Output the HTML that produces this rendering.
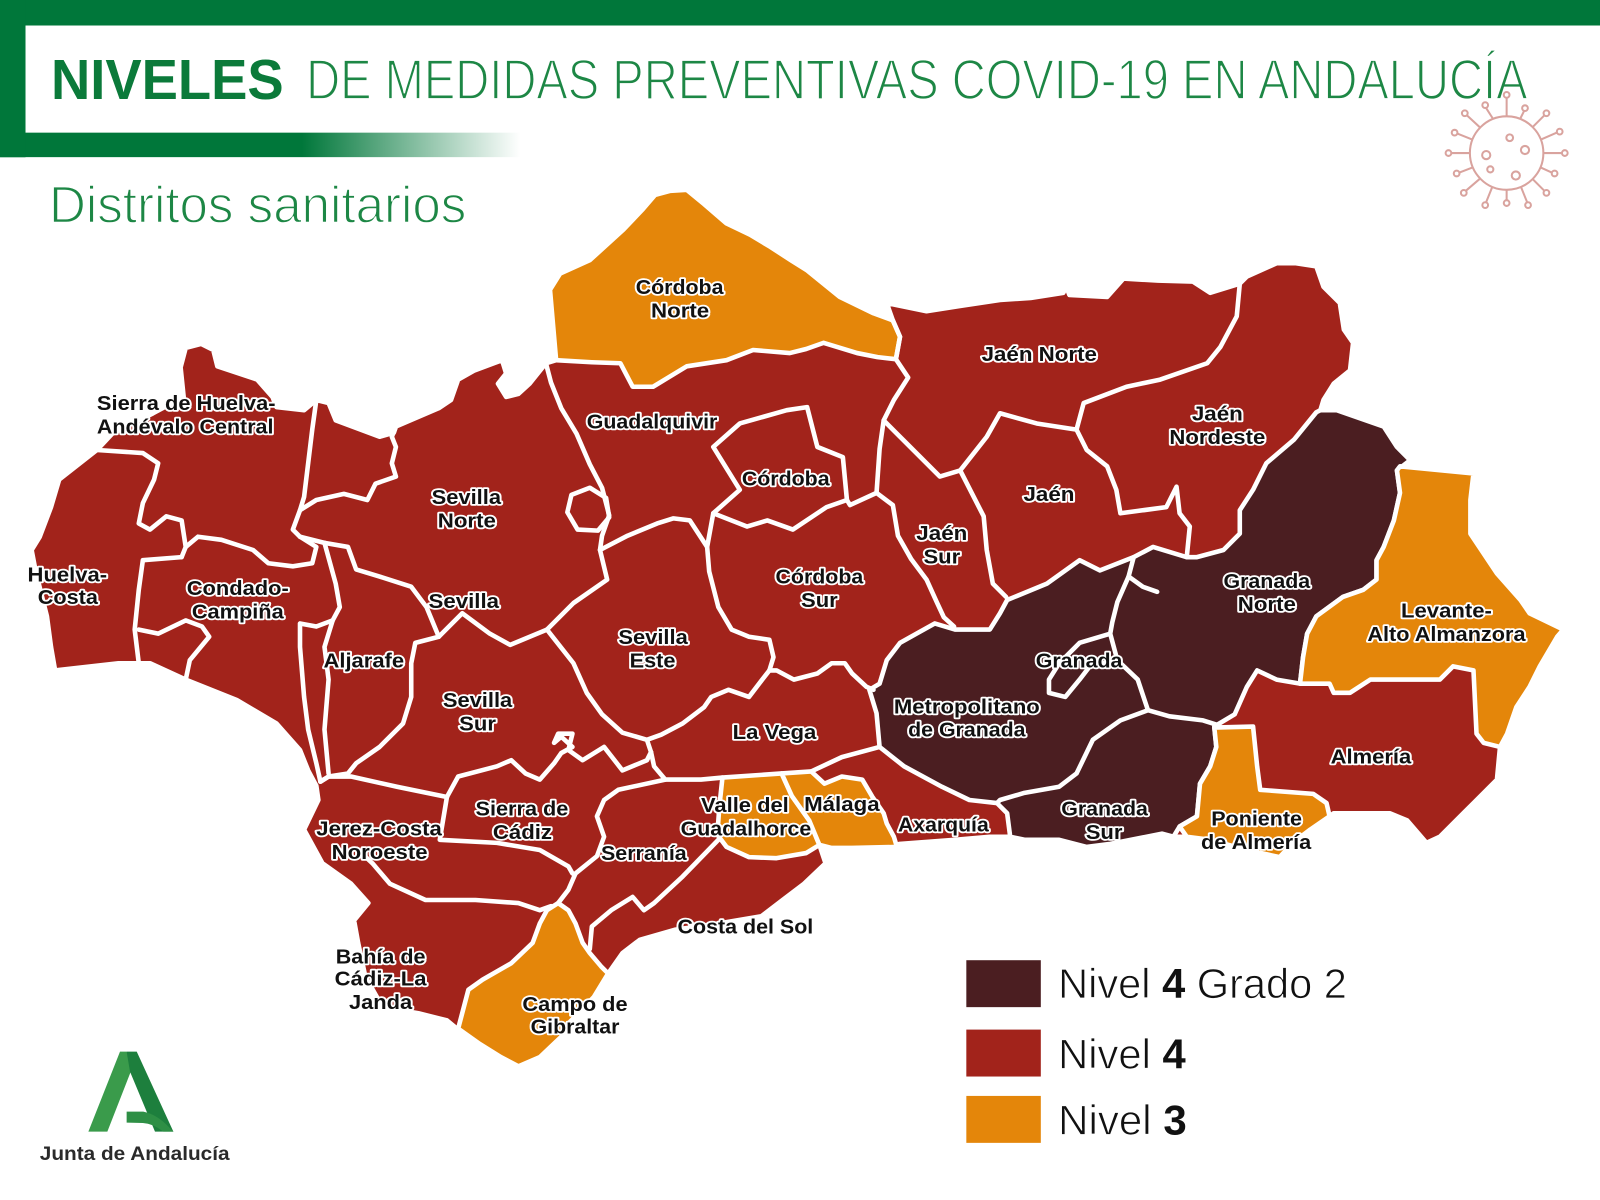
<!DOCTYPE html>
<html>
<head>
<meta charset="utf-8">
<style>
html,body{margin:0;padding:0;background:#fff;}
body{width:1600px;height:1200px;overflow:hidden;}
svg{display:block;}
</style>
</head>
<body>
<svg width="1600" height="1200" viewBox="0 0 1568 1176" xmlns="http://www.w3.org/2000/svg" preserveAspectRatio="none">
<defs>
<linearGradient id="gb" gradientUnits="userSpaceOnUse" x1="0" y1="0" x2="510" y2="0">
<stop offset="0" stop-color="#00773a"/>
<stop offset="0.58" stop-color="#00773a"/>
<stop offset="1" stop-color="#00773a" stop-opacity="0"/>
</linearGradient>
</defs>
<rect x="0" y="0" width="1568" height="1176" fill="#fff"/>
<!-- header frame -->
<rect x="0" y="0" width="1568" height="25" fill="#00773a"/>
<rect x="0" y="0" width="25" height="154" fill="#00773a"/>
<rect x="0" y="130" width="510" height="24" fill="url(#gb)"/>
<rect x="0" y="130" width="25" height="24" fill="#00773a"/>
<text x="50" y="97" font-family="Liberation Sans, sans-serif" font-weight="bold" font-size="55" fill="#0b7a3a" textLength="228" lengthAdjust="spacingAndGlyphs">NIVELES</text>
<text x="300" y="97" font-family="Liberation Sans, sans-serif" font-size="55" fill="#1d8745" stroke="#fff" stroke-width="1.6" textLength="1197" lengthAdjust="spacingAndGlyphs">DE MEDIDAS PREVENTIVAS COVID-19 EN ANDALUCÍA</text>
<text x="48" y="218" font-family="Liberation Sans, sans-serif" font-size="51" fill="#1d8745" stroke="#fff" stroke-width="1.4" textLength="409" lengthAdjust="spacingAndGlyphs">Distritos sanitarios</text>

<!-- virus icon -->
<g stroke="#d9a39e" stroke-width="2" fill="none" transform="translate(1476.5,150)">
<circle r="36"/>
<g>
<line x1="0" y1="-36" x2="0" y2="-54"/><circle cx="0" cy="-57" r="2.8"/>
<line x1="13" y1="-33" x2="17" y2="-41"/><circle cx="18" cy="-44" r="2.8"/>
<line x1="25" y1="-25" x2="37" y2="-37"/><circle cx="39" cy="-39" r="2.8"/>
<line x1="33" y1="-13" x2="49" y2="-20"/><circle cx="52" cy="-21" r="2.8"/>
<line x1="36" y1="0" x2="54" y2="0"/><circle cx="57" cy="0" r="2.8"/>
<line x1="33" y1="14" x2="44" y2="19"/><circle cx="47" cy="20" r="2.8"/>
<line x1="25" y1="25" x2="37" y2="37"/><circle cx="39" cy="39" r="2.8"/>
<line x1="14" y1="33" x2="20" y2="48"/><circle cx="21" cy="51" r="2.8"/>
<line x1="0" y1="36" x2="0" y2="46"/><circle cx="0" cy="49" r="2.8"/>
<line x1="-14" y1="33" x2="-20" y2="48"/><circle cx="-21" cy="51" r="2.8"/>
<line x1="-26" y1="25" x2="-40" y2="37"/><circle cx="-42" cy="39" r="2.8"/>
<line x1="-33" y1="14" x2="-46" y2="19"/><circle cx="-49" cy="20" r="2.8"/>
<line x1="-36" y1="0" x2="-54" y2="0"/><circle cx="-57" cy="0" r="2.8"/>
<line x1="-33" y1="-13" x2="-48" y2="-19"/><circle cx="-51" cy="-20" r="2.8"/>
<line x1="-26" y1="-25" x2="-39" y2="-37"/><circle cx="-41" cy="-39" r="2.8"/>
<line x1="-13" y1="-33" x2="-20" y2="-44"/><circle cx="-21" cy="-47" r="2.8"/>
</g>
<circle cx="3" cy="-15" r="3.3"/>
<circle cx="18" cy="-3" r="4"/>
<circle cx="-20" cy="2" r="4"/>
<circle cx="-16" cy="16" r="3"/>
<circle cx="9" cy="22" r="4"/>
</g>

<!-- MAP base (Nivel 4 red) -->
<g stroke="#fff" stroke-width="4.5" stroke-linejoin="round" stroke-linecap="round">
<path fill="#a2231b" d="M95,441 L110,425 L150,405 L180,389 L177,360 L182,341 L197,337 L209,343 L213,359 L252,372 L267,389 L271,399 L298,402 L310,392 L322,395 L329,412 L372,428 L386,424 L388,418 L430,400 L442,392 L449,372 L465,363 L484,356 L492,353 L496,366 L488,376 L496,389 L508,386 L519,376 L535,356 L545,353 L539,284 L549,268 L578,255 L611,225 L630,205 L642,191 L657,187 L673,186 L690,200 L712,219 L735,230 L755,242 L775,255 L791,265 L823,291 L856,307 L875,314 L869,297 L908,305 L940,300 L980,294 L1010,292 L1042,287 L1045,281 L1048,289 L1085,291 L1101,273 L1135,275 L1169,276 L1186,287 L1215,278 L1222,271 L1251,258 L1270,258 L1290,261 L1297,281 L1313,297 L1317,323 L1326,336 L1323,363 L1307,376 L1297,392 L1294,402 L1310,402 L1356,418 L1369,438 L1382,451 L1372,457 L1444,464 L1441,490 L1441,523 L1467,562 L1490,588 L1499,601 L1532,617 L1526,624 L1509,653 L1499,673 L1486,693 L1477,719 L1470,732 L1467,764 L1444,787 L1434,797 L1411,820 L1398,826 L1379,804 L1362,797 L1330,797 L1307,797 L1303,800 L1284,813 L1267,826 L1254,840 L1222,833 L1186,823 L1163,820 L1150,820 L1139,817 L1088,827 L1065,830 L1038,823 L1004,823 L990,820 L970,820 L936,823 L882,827 L869,830 L835,831 L815,831 L803,828 L809,846 L788,866 L767,882 L746,898 L704,905 L662,911 L627,921 L610,934 L596,954 L582,977 L557,1003 L550,1016 L529,1036 L508,1045 L491,1036 L470,1023 L449,1009 L438,1000 L410,993 L375,987 L358,957 L351,924 L347,902 L361,885 L344,866 L316,846 L298,813 L312,784 L310,770 L302,755 L294,735 L271,709 L232,686 L182,666 L147,650 L116,650 L54,657 L50,634 L46,604 L40,580 L35,560 L31,539 L39,526 L50,497 L58,470 Z"/>

<!-- Nivel 4 Grado 2 (dark) -->
<path fill="#4b1e21" d="M1294,402 L1310,402 L1356,418 L1369,438 L1382,451 L1369,461 L1372,483 L1366,510 L1356,536 L1349,549 L1349,568 L1336,578 L1316,585 L1290,604 L1281,621 L1277,644 L1274,670 L1251,666 L1232,657 L1222,673 L1210,700 L1190,712 L1192,732 L1186,751 L1176,768 L1173,800 L1156,810 L1150,820 L1139,817 L1088,827 L1065,830 L1038,823 L1004,823 L990,820 L987,797 L977,787 L950,784 L923,771 L886,751 L862,732 L859,699 L852,676 L862,670 L869,647 L882,630 L916,611 L936,617 L970,617 L980,601 L987,588 L1004,581 L1026,572 L1058,549 L1078,559 L1111,546 L1130,536 L1163,546 L1173,546 L1199,539 L1215,523 L1215,500 L1228,480 L1241,454 L1268,431 L1290,404 Z"/>

<!-- Nivel 3 (orange) -->
<g fill="#e4860a">
<path d="M545,353 L539,284 L549,268 L578,255 L611,225 L630,205 L642,191 L657,187 L673,186 L690,200 L712,219 L735,230 L755,242 L775,255 L791,265 L823,291 L856,307 L875,314 L882,330 L878,352 L860,350 L840,346 L807,336 L790,342 L774,346 L738,343 L712,353 L673,359 L640,379 L620,379 L608,356 L580,355 Z"/>
<path d="M1372,457 L1444,464 L1441,490 L1441,523 L1467,562 L1490,588 L1499,601 L1532,617 L1526,624 L1509,653 L1499,673 L1486,693 L1477,719 L1470,732 L1454,728 L1447,719 L1444,657 L1424,653 L1411,666 L1395,666 L1343,666 L1323,679 L1307,679 L1303,670 L1274,670 L1277,644 L1281,621 L1290,604 L1316,585 L1336,578 L1349,568 L1349,549 L1356,536 L1366,510 L1372,483 L1369,461 Z"/>
<path d="M1190,713 L1228,712 L1232,751 L1235,774 L1287,778 L1300,787 L1303,800 L1284,813 L1267,826 L1254,840 L1222,833 L1186,823 L1163,820 L1156,810 L1173,800 L1176,768 L1186,751 L1192,732 Z"/>
<path d="M708,762 L766,758 L776,780 L793,804 L803,828 L790,836 L761,841 L734,840 L712,830 L703,818 L705,790 Z"/>
<path d="M766,758 L795,756 L808,768 L825,761 L845,764 L855,781 L866,797 L869,807 L876,820 L879,830 L835,831 L815,831 L803,828 L793,804 L776,780 Z"/>
<path d="M449,1008 L459,970 L473,960 L501,944 L522,924 L529,905 L536,892 L547,885 L557,892 L564,905 L571,924 L578,934 L589,947 L596,954 L582,977 L557,1003 L550,1016 L529,1036 L508,1045 L491,1036 L470,1023 Z"/>
</g>

<!-- internal boundaries -->
<g fill="none">
<path d="M95,441 L140,444 L155,454 L151,470 L140,493 L136,513 L147,519 L163,506 L178,510 L182,536 L178,546"/>
<path d="M178,546 L140,549 L136,578 L132,617 L136,650"/>
<path d="M136,617 L155,621 L182,608 L198,614 L205,624 L186,647 L182,666"/>
<path d="M182,536 L194,526 L217,529 L248,539 L263,552 L287,555 L306,552 L310,536 L294,526"/>
<path d="M310,392 L306,421 L302,454 L298,487 L294,500 L287,519 L294,526"/>
<path d="M388,418 L384,428 L388,438 L384,454 L388,467 L368,474 L360,490 L337,484 L310,490 L294,500"/>
<path d="M294,526 L318,532"/>
<path d="M318,532 L329,572 L333,595 L326,608 L310,614 L294,611 L294,634 L298,683 L302,715 L310,748 L314,766"/>
<path d="M326,608 L318,634 L322,666 L318,715 L322,758"/>
<path d="M318,532 L341,536 L349,558 L372,565 L403,575 L418,595 L430,624"/>
<path d="M430,624 L407,630 L403,650 L403,683 L395,709 L372,732 L349,748 L341,758 L322,761 L314,766"/>
<path d="M430,624 L453,601 L480,621 L500,632 L536,617"/>
<path d="M535,356 L540,375 L550,400 L565,425 L578,455 L590,478 L597,505 L590,525 L588,539 L595,568 L562,591 L536,617"/>
<path d="M560,485 L578,478 L594,488 L597,507 L586,520 L566,519 L556,502 Z"/>
<path d="M536,617 L562,650 L575,679 L590,700 L610,718 L634,725 L638,737"/>
<path d="M588,539 L615,525 L644,513 L660,508 L676,510 L693,536"/>
<path d="M693,536 L699,503"/>
<path d="M699,503 L725,480 L699,438 L725,415 L771,402 L791,399 L801,438 L826,448 L830,490 L810,497 L777,519 L752,510 L732,516 Z"/>
<path d="M830,490 L833,495 L859,483"/>
<path d="M875,314 L882,330 L878,352 L890,370 L876,392 L866,412 L862,440 L859,483"/>
<path d="M866,412 L882,428 L921,467 L941,461 L967,428 L980,405 L1016,415 L1055,421"/>
<path d="M859,483 L875,495 L880,525 L893,548 L908,568 L918,590 L925,605 L935,614"/>
<path d="M941,461 L964,506 L967,539 L973,572 L986,585"/>
<path d="M1215,278 L1212,310 L1196,340 L1183,356 L1137,372 L1104,379 L1062,395 L1055,421"/>
<path d="M1055,421 L1065,441 L1085,457 L1094,480 L1098,503 L1143,497 L1153,477 L1156,503 L1166,516 L1163,546"/>
<path d="M693,536 L695,560 L704,595 L717,617 L734,624 L754,627 L758,644 L754,657"/>
<path d="M754,657 L761,657 L778,666 L801,660 L815,650 L828,650 L835,660 L849,673 L856,676"/>
<path d="M754,657 L747,666 L734,683 L714,676 L697,683 L690,693 L669,709 L648,720 L634,725"/>
<path d="M638,737 L641,751 L652,764 L687,764 L708,762"/>
<path d="M795,756 L825,742 L862,732"/>
<path d="M438,781 L449,761 L487,751 L501,745 L515,758 L529,764 L543,748 L550,738 L561,732 L550,722 L543,728 L547,719 L561,719 L557,735 L571,745 L592,732 L610,755 L634,745 L638,737"/>
<path d="M314,766 L322,761 L344,761 L389,771 L438,781"/>
<path d="M438,781 L431,823 L487,826 L529,833 L557,849 L561,856"/>
<path d="M350,832 L365,846 L382,866 L417,882 L466,882 L508,885 L529,892 L540,888"/>
<path d="M652,764 L606,774 L592,784 L585,800 L592,820 L585,839 L564,856 L557,872 L547,885"/>
<path d="M705,822 L669,859 L641,885 L631,892 L620,879 L599,892 L580,908 L578,930"/>
<path d="M1111,546 L1106,565 L1095,590 L1090,610 L1088,621 L1095,647 L1115,666 L1125,696"/>
<path d="M1106,565 L1120,575 L1134,580"/>
<path d="M1088,621 L1058,630 L1038,650 L1028,666 L1028,679 L1044,683 L1058,666 L1068,653 L1095,647"/>
<path d="M1125,696 L1098,706 L1071,725 L1055,758 L1038,771 L1004,777 L980,784 L977,787"/>
<path d="M1125,696 L1146,702 L1179,706 L1195,711"/>
</g>
</g>

<!-- labels -->
<g font-family="Liberation Sans, sans-serif" font-weight="bold" font-size="19.5" fill="#111" stroke="#fff" stroke-width="3.5" stroke-linejoin="round" paint-order="stroke">
<text x="623" y="288" textLength="86" lengthAdjust="spacingAndGlyphs">Córdoba</text>
<text x="638" y="311" textLength="57" lengthAdjust="spacingAndGlyphs">Norte</text>
<text x="95" y="402" textLength="175" lengthAdjust="spacingAndGlyphs">Sierra de Huelva-</text>
<text x="95" y="425" textLength="173" lengthAdjust="spacingAndGlyphs">Andévalo Central</text>
<text x="575" y="420" textLength="128" lengthAdjust="spacingAndGlyphs">Guadalquivir</text>
<text x="962" y="354" textLength="113" lengthAdjust="spacingAndGlyphs">Jaén Norte</text>
<text x="1168" y="412" textLength="50" lengthAdjust="spacingAndGlyphs">Jaén</text>
<text x="1146" y="435" textLength="94" lengthAdjust="spacingAndGlyphs">Nordeste</text>
<text x="727" y="476" textLength="86" lengthAdjust="spacingAndGlyphs">Córdoba</text>
<text x="423" y="494" textLength="68" lengthAdjust="spacingAndGlyphs">Sevilla</text>
<text x="429" y="517" textLength="57" lengthAdjust="spacingAndGlyphs">Norte</text>
<text x="1003" y="491" textLength="50" lengthAdjust="spacingAndGlyphs">Jaén</text>
<text x="898" y="529" textLength="50" lengthAdjust="spacingAndGlyphs">Jaén</text>
<text x="905" y="552" textLength="36" lengthAdjust="spacingAndGlyphs">Sur</text>
<text x="27" y="570" textLength="78" lengthAdjust="spacingAndGlyphs">Huelva-</text>
<text x="37" y="592" textLength="59" lengthAdjust="spacingAndGlyphs">Costa</text>
<text x="183" y="583" textLength="100" lengthAdjust="spacingAndGlyphs">Condado-</text>
<text x="188" y="606" textLength="90" lengthAdjust="spacingAndGlyphs">Campiña</text>
<text x="760" y="572" textLength="86" lengthAdjust="spacingAndGlyphs">Córdoba</text>
<text x="785" y="595" textLength="36" lengthAdjust="spacingAndGlyphs">Sur</text>
<text x="420" y="596" textLength="69" lengthAdjust="spacingAndGlyphs">Sevilla</text>
<text x="1199" y="576" textLength="85" lengthAdjust="spacingAndGlyphs">Granada</text>
<text x="1213" y="599" textLength="57" lengthAdjust="spacingAndGlyphs">Norte</text>
<text x="1373" y="605" textLength="89" lengthAdjust="spacingAndGlyphs">Levante-</text>
<text x="1340" y="628" textLength="155" lengthAdjust="spacingAndGlyphs">Alto Almanzora</text>
<text x="606" y="631" textLength="68" lengthAdjust="spacingAndGlyphs">Sevilla</text>
<text x="617" y="654" textLength="45" lengthAdjust="spacingAndGlyphs">Este</text>
<text x="317" y="654" textLength="79" lengthAdjust="spacingAndGlyphs">Aljarafe</text>
<text x="1015" y="654" textLength="85" lengthAdjust="spacingAndGlyphs">Granada</text>
<text x="434" y="693" textLength="68" lengthAdjust="spacingAndGlyphs">Sevilla</text>
<text x="450" y="716" textLength="36" lengthAdjust="spacingAndGlyphs">Sur</text>
<text x="876" y="699" textLength="143" lengthAdjust="spacingAndGlyphs">Metropolitano</text>
<text x="890" y="722" textLength="115" lengthAdjust="spacingAndGlyphs">de Granada</text>
<text x="718" y="724" textLength="82" lengthAdjust="spacingAndGlyphs">La Vega</text>
<text x="1304" y="748" textLength="79" lengthAdjust="spacingAndGlyphs">Almería</text>
<text x="466" y="799" textLength="91" lengthAdjust="spacingAndGlyphs">Sierra de</text>
<text x="483" y="822" textLength="58" lengthAdjust="spacingAndGlyphs">Cádiz</text>
<text x="687" y="796" textLength="86" lengthAdjust="spacingAndGlyphs">Valle del</text>
<text x="667" y="819" textLength="128" lengthAdjust="spacingAndGlyphs">Guadalhorce</text>
<text x="788" y="795" textLength="74" lengthAdjust="spacingAndGlyphs">Málaga</text>
<text x="310" y="819" textLength="123" lengthAdjust="spacingAndGlyphs">Jerez-Costa</text>
<text x="325" y="842" textLength="94" lengthAdjust="spacingAndGlyphs">Noroeste</text>
<text x="880" y="815" textLength="89" lengthAdjust="spacingAndGlyphs">Axarquía</text>
<text x="1040" y="799" textLength="85" lengthAdjust="spacingAndGlyphs">Granada</text>
<text x="1064" y="822" textLength="36" lengthAdjust="spacingAndGlyphs">Sur</text>
<text x="1187" y="809" textLength="89" lengthAdjust="spacingAndGlyphs">Poniente</text>
<text x="1177" y="832" textLength="108" lengthAdjust="spacingAndGlyphs">de Almería</text>
<text x="589" y="843" textLength="84" lengthAdjust="spacingAndGlyphs">Serranía</text>
<text x="664" y="915" textLength="133" lengthAdjust="spacingAndGlyphs">Costa del Sol</text>
<text x="329" y="944" textLength="88" lengthAdjust="spacingAndGlyphs">Bahía de</text>
<text x="328" y="966" textLength="90" lengthAdjust="spacingAndGlyphs">Cádiz-La</text>
<text x="342" y="989" textLength="62" lengthAdjust="spacingAndGlyphs">Janda</text>
<text x="512" y="991" textLength="103" lengthAdjust="spacingAndGlyphs">Campo de</text>
<text x="520" y="1013" textLength="87" lengthAdjust="spacingAndGlyphs">Gibraltar</text>
</g>

<!-- legend -->
<rect x="947" y="941" width="73" height="46" fill="#4b1e21"/>
<rect x="947" y="1009" width="73" height="46" fill="#a2231b"/>
<rect x="947" y="1074" width="73" height="46" fill="#e4860a"/>
<g font-family="Liberation Sans, sans-serif" font-size="41" fill="#111" stroke="#fff" stroke-width="0.8">
<text x="1037" y="978" textLength="283" lengthAdjust="spacingAndGlyphs">Nivel <tspan font-weight="bold" stroke="none">4</tspan> Grado 2</text>
<text x="1037" y="1047" textLength="125" lengthAdjust="spacingAndGlyphs">Nivel <tspan font-weight="bold" stroke="none">4</tspan></text>
<text x="1037" y="1112" textLength="126" lengthAdjust="spacingAndGlyphs">Nivel <tspan font-weight="bold" stroke="none">3</tspan></text>
</g>

<!-- logo -->
<polygon points="86.6,1109 105.2,1109 130.7,1043.7 124.1,1030.6 117.6,1030.6" fill="#3a9b4b"/>
<polygon points="124.1,1030.6 134,1030.6 169.9,1109 151.9,1109 127.4,1050.2" fill="#1d7f3d"/>
<path d="M124.1,1089.4 L140.5,1089.4 Q153.5,1092 165,1104 L169.9,1109 L160,1109 Q150,1101 140,1100.5 L124.1,1100.2 Z" fill="#2e8f45"/>
<text x="39" y="1137" font-family="Liberation Sans, sans-serif" font-weight="bold" font-size="19" fill="#2a2a2a" textLength="186" lengthAdjust="spacingAndGlyphs">Junta de Andalucía</text>
</svg>
</body>
</html>
